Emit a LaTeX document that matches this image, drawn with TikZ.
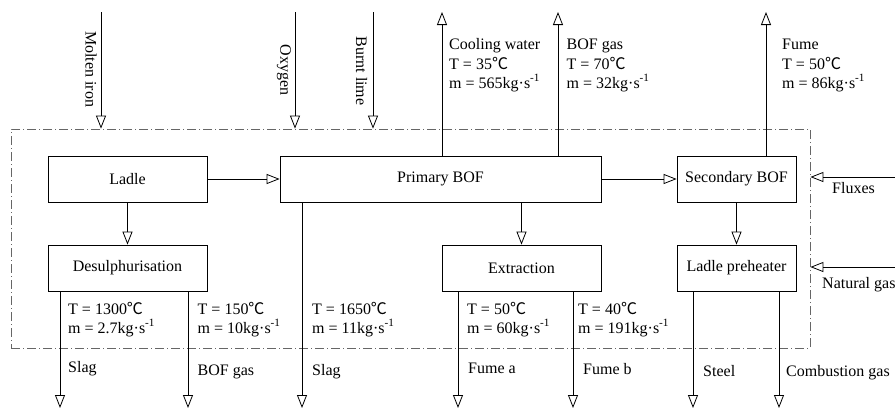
\documentclass[tikz,border=0pt]{standalone}
\usepackage{fontspec}
\setmainfont{Liberation Serif}
\newfontfamily\cjkfont{Noto Sans CJK SC}
\usetikzlibrary{arrows.meta}
\newcommand\degC{{\cjkfont ℃}}
\newcommand\kgs{kg·s\textsuperscript{-1}}
\tikzset{
  every node/.style={font=\fontsize{16}{19}\selectfont},
  proc/.style={draw, line width=0.8pt, inner sep=0pt, minimum height=46pt},
  lbl/.style={anchor=base west, inner sep=0pt},
  vlbl/.style={rotate=-90, inner sep=0pt},
  flow/.style={line width=0.8pt, -{Triangle[open, length=13pt, width=10pt, line width=0.8pt]}},
  sysbox/.style={draw=black!60, line width=0.8pt, dash pattern=on 9pt off 3pt on 1pt off 3pt, inner sep=0pt}
}
\begin{document}
\begin{tikzpicture}[x=1pt, y=-1pt]
\useasboundingbox (0,0) rectangle (895,410);

% system boundary
\node[sysbox, minimum width=799pt, minimum height=219pt] (sys) at (410.5,238.5) {};

% process boxes
\node[proc, minimum width=159pt] (ladle) at (127.5,179) {Ladle};
\node[proc, minimum width=159pt] (desul) at (127.5,268) {Desulphurisation};
\node[proc, minimum width=321pt] (pbof) at (440.5,179) {Primary BOF};
\node[proc, minimum width=119pt] (sbof) at (736.5,179) {Secondary BOF};
\node[proc, minimum width=159pt] (ext) at (521.5,268) {Extraction};
\node[proc, minimum width=119pt] (lph) at (736.5,268) {Ladle preheater};

% internal flows
\draw[flow] (ladle) -- (pbof);
\draw[flow] (pbof) -- (sbof);
\draw[flow] (ladle) -- (desul);
\draw[flow] (pbof.south -| ext.north) -- (ext.north);
\draw[flow] (sbof) -- (lph);

% inputs from top
\coordinate (mi) at (101,12);
\coordinate (ox) at (295,12);
\coordinate (bl) at (373,12);
\draw[flow] (mi) -- (mi |- sys.north);
\draw[flow] (ox) -- (ox |- sys.north);
\draw[flow] (bl) -- (bl |- sys.north);
\node[vlbl] (tmi) at (91,69) {Molten iron};
\node[vlbl] (tox) at (284,70) {Oxygen};
\node[vlbl] (tbl) at (361.5,71) {Burnt lime};

% outputs to top
\coordinate (cw) at (442,12);
\coordinate (bg) at (558,12);
\coordinate (fu) at (766,12);
\draw[flow] (pbof.north -| cw) -- (cw);
\draw[flow] (pbof.north -| bg) -- (bg);
\draw[flow] (sbof.north -| fu) -- (fu);
\node[lbl] (cw1) at (449,49) {Cooling water};
\node[lbl] (cw2) at (449,69) {T = 35\degC};
\node[lbl] (cw3) at (449,88) {m = 565\kgs};
\node[lbl] (bg1) at (566.5,49) {BOF gas};
\node[lbl] (bg2) at (566.5,69) {T = 70\degC};
\node[lbl] (bg3) at (566.5,88) {m = 32\kgs};
\node[lbl] (fu1) at (782,49) {Fume};
\node[lbl] (fu2) at (782,69) {T = 50\degC};
\node[lbl] (fu3) at (782,88) {m = 86\kgs};

% inputs from right
\coordinate (fx) at (895,177);
\coordinate (ng) at (895,267);
\draw[flow] (fx) -- (fx -| sys.east);
\draw[flow] (ng) -- (ng -| sys.east);
\node[lbl] (tfx) at (832,193) {Fluxes};
\node[lbl] (tng) at (822,288) {Natural gas};

% outputs to bottom
\coordinate (s1) at (60,408);
\coordinate (g1) at (188,408);
\coordinate (s2) at (302,408);
\coordinate (fa) at (458,408);
\coordinate (fb) at (573,408);
\coordinate (st) at (693,408);
\coordinate (cg) at (779,408);
\draw[flow] (desul.south -| s1) -- (s1);
\draw[flow] (desul.south -| g1) -- (g1);
\draw[flow] (pbof.south -| s2) -- (s2);
\draw[flow] (ext.south -| fa) -- (fa);
\draw[flow] (ext.south -| fb) -- (fb);
\draw[flow] (lph.south -| st) -- (st);
\draw[flow] (lph.south -| cg) -- (cg);

\node[lbl] (s1a) at (68,314) {T = 1300\degC};
\node[lbl] (s1b) at (68,333) {m = 2.7\kgs};
\node[lbl] (s1c) at (68,372) {Slag};
\node[lbl] (g1a) at (197.5,314) {T = 150\degC};
\node[lbl] (g1b) at (197.5,333) {m = 10\kgs};
\node[lbl] (g1c) at (197.5,375) {BOF gas};
\node[lbl] (s2a) at (312,314) {T = 1650\degC};
\node[lbl] (s2b) at (312,333) {m = 11\kgs};
\node[lbl] (s2c) at (312,375) {Slag};
\node[lbl] (faa) at (467,314) {T = 50\degC};
\node[lbl] (fab) at (467,333) {m = 60\kgs};
\node[lbl] (fac) at (468,373) {Fume a};
\node[lbl] (fba) at (578,314) {T = 40\degC};
\node[lbl] (fbb) at (578,333) {m = 191\kgs};
\node[lbl] (fbc) at (583,374) {Fume b};
\node[lbl] (stc) at (703,376) {Steel};
\node[lbl] (cgc) at (786,376) {Combustion gas};
\end{tikzpicture}
\end{document}
